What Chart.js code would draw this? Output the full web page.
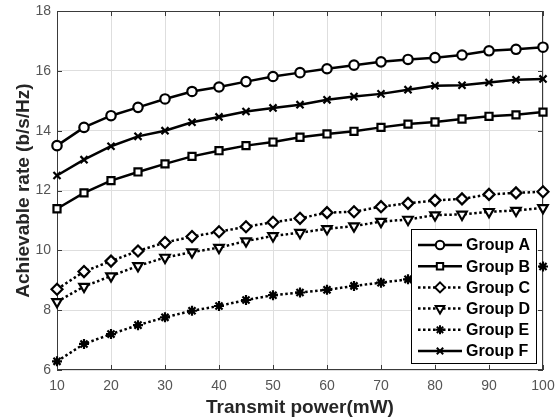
<!DOCTYPE html>
<html>
<head>
<meta charset="utf-8">
<script src="https://cdn.jsdelivr.net/npm/chart.js@4.4.0/dist/chart.umd.min.js"></script>
<style>
  html, body { margin: 0; padding: 0; background: #fff; }
  #wrap { width: 558px; height: 419px; position: relative; }
</style>
</head>
<body>
<div id="wrap"><canvas id="rateChart"></canvas></div>
<script>
// transmit power (mW)
const power = [10, 15, 20, 25, 30, 35, 40, 45, 50, 55, 60, 65, 70, 75, 80, 85, 90, 95, 100];

// achievable rate (b/s/Hz) per group
const groupA = [13.5, 14.11, 14.5, 14.78, 15.06, 15.31, 15.46, 15.64, 15.81, 15.94, 16.07, 16.19, 16.3, 16.38, 16.44, 16.53, 16.67, 16.72, 16.79];
const groupB = [11.39, 11.92, 12.33, 12.62, 12.89, 13.14, 13.33, 13.5, 13.62, 13.78, 13.89, 13.98, 14.11, 14.22, 14.29, 14.39, 14.48, 14.53, 14.62];
const groupC = [8.7, 9.29, 9.64, 9.98, 10.26, 10.46, 10.62, 10.79, 10.94, 11.07, 11.26, 11.29, 11.46, 11.57, 11.67, 11.72, 11.87, 11.92, 11.96];
const groupD = [8.28, 8.79, 9.14, 9.48, 9.76, 9.94, 10.09, 10.31, 10.48, 10.59, 10.72, 10.81, 10.96, 11.03, 11.18, 11.2, 11.29, 11.33, 11.42];
const groupE = [6.29, 6.87, 7.2, 7.5, 7.76, 7.98, 8.14, 8.34, 8.5, 8.59, 8.68, 8.81, 8.92, 9.03, 9.12, 9.22, 9.3, 9.38, 9.46];
const groupF = [12.5, 13.03, 13.48, 13.81, 14.0, 14.28, 14.46, 14.64, 14.76, 14.87, 15.03, 15.14, 15.23, 15.37, 15.5, 15.52, 15.61, 15.7, 15.73];

const groupNames = ['Group A', 'Group B', 'Group C', 'Group D', 'Group E', 'Group F'];
const xTicks = [10, 20, 30, 40, 50, 60, 70, 80, 90, 100];
const yTicks = [6, 8, 10, 12, 14, 16, 18];

const FONT = '"Liberation Sans", Arial, Helvetica, sans-serif';
const DOTS = [2.5, 2.5];

function serie(label, values, style, radius, dashed, rotation) {
  return {
    label: label,
    data: power.map((p, i) => ({ x: p, y: values[i] })),
    borderColor: '#000',
    borderWidth: 2.5,
    borderDash: dashed ? DOTS : [],
    pointStyle: style,
    pointRotation: rotation || 0,
    pointRadius: radius,
    pointHoverRadius: radius,
    pointBorderWidth: 2.2,
    pointBackgroundColor: '#fff',
    pointBorderColor: '#000',
    tension: 0,
    fill: false,
    clip: false
  };
}

// box around the plot with inward tick marks
const boxPlugin = {
  id: 'box',
  beforeDatasetsDraw(chart) {
    const a = chart.chartArea, ctx = chart.ctx;
    const sx = chart.scales.x, sy = chart.scales.y;
    ctx.save();
    ctx.strokeStyle = '#3a3a3a';
    ctx.lineWidth = 1;
    ctx.strokeRect(a.left + 0.5, a.top + 0.5, a.right - a.left - 1, a.bottom - a.top - 1);
    ctx.beginPath();
    xTicks.forEach(t => {
      const px = Math.round(sx.getPixelForValue(t)) + 0.5;
      ctx.moveTo(px, a.bottom); ctx.lineTo(px, a.bottom - 5);
      ctx.moveTo(px, a.top); ctx.lineTo(px, a.top + 5);
    });
    yTicks.forEach(t => {
      const py = Math.round(sy.getPixelForValue(t)) + 0.5;
      ctx.moveTo(a.left, py); ctx.lineTo(a.left + 5, py);
      ctx.moveTo(a.right, py); ctx.lineTo(a.right - 5, py);
    });
    ctx.stroke();
    ctx.restore();
  }
};

// legend box inside the plot, bottom right
const legendPlugin = {
  id: 'innerLegend',
  afterDatasetsDraw(chart) {
    const a = chart.chartArea, ctx = chart.ctx;
    const bx = a.right - 132, by = a.bottom - 141, bw = 125, bh = 134;
    ctx.save();
    ctx.fillStyle = '#fff';
    ctx.fillRect(bx, by, bw, bh);
    ctx.strokeStyle = '#000';
    ctx.lineWidth = 1;
    ctx.strokeRect(bx + 0.5, by + 0.5, bw, bh);
    chart.data.datasets.forEach((ds, i) => {
      const cy = by + 16 + i * 21.2;
      ctx.strokeStyle = '#000';
      ctx.lineWidth = ds.borderWidth;
      ctx.setLineDash(ds.borderDash);
      ctx.beginPath();
      ctx.moveTo(bx + 7, cy);
      ctx.lineTo(bx + 51, cy);
      ctx.stroke();
      ctx.setLineDash([]);
      ctx.fillStyle = '#fff';
      ctx.lineWidth = 2;
      Chart.helpers.drawPoint(ctx, {
        pointStyle: ds.pointStyle,
        rotation: ds.pointRotation,
        radius: ds.pointRadius - 0.5,
        borderWidth: 2
      }, bx + 29, cy);
      ctx.fillStyle = '#000';
      ctx.font = 'bold 16px ' + FONT;
      ctx.textBaseline = 'middle';
      ctx.textAlign = 'left';
      ctx.fillText(ds.label, bx + 55, cy + 1);
    });
    ctx.restore();
  }
};

new Chart(document.getElementById('rateChart'), {
  type: 'line',
  data: {
    datasets: [
      serie(groupNames[0], groupA, 'circle', 4.7, false),
      serie(groupNames[1], groupB, 'rect', 5, false),
      serie(groupNames[2], groupC, 'rectRot', 5.5, true),
      serie(groupNames[3], groupD, 'triangle', 5.5, true, 180),
      serie(groupNames[4], groupE, 'star', 5, true),
      serie(groupNames[5], groupF, 'crossRot', 5, false)
    ]
  },
  options: {
    responsive: true,
    maintainAspectRatio: false,
    animation: false,
    layout: { padding: { top: 11, right: 15, left: 0, bottom: 0 } },
    plugins: {
      legend: { display: false },
      tooltip: { enabled: false }
    },
    scales: {
      x: {
        type: 'linear',
        min: 10,
        max: 100,
        afterBuildTicks: s => { s.ticks = xTicks.map(v => ({ value: v })); },
        afterFit: s => { s.height = 49; s.paddingLeft = 0; s.paddingRight = 0; },
        ticks: { color: '#555', font: { size: 14, family: FONT }, padding: 8, maxRotation: 0 },
        grid: { color: '#dedede', drawTicks: false },
        border: { display: false },
        title: {
          display: true,
          text: 'Transmit power(mW)',
          color: '#262626',
          font: { size: 19, weight: 'bold', family: FONT },
          padding: { top: 0, bottom: 0 }
        }
      },
      y: {
        type: 'linear',
        min: 6,
        max: 18,
        afterBuildTicks: s => { s.ticks = yTicks.map(v => ({ value: v })); },
        afterFit: s => { s.width = 57; s.paddingTop = 0; s.paddingBottom = 0; },
        ticks: { color: '#555', font: { size: 14, family: FONT }, padding: 6 },
        grid: { color: '#dedede', drawTicks: false },
        border: { display: false },
        title: {
          display: true,
          text: 'Achievable rate (b/s/Hz)',
          color: '#262626',
          font: { size: 19, weight: 'bold', family: FONT },
          padding: { top: 12, bottom: 0 }
        }
      }
    }
  },
  plugins: [boxPlugin, legendPlugin]
});
</script>
</body>
</html>
